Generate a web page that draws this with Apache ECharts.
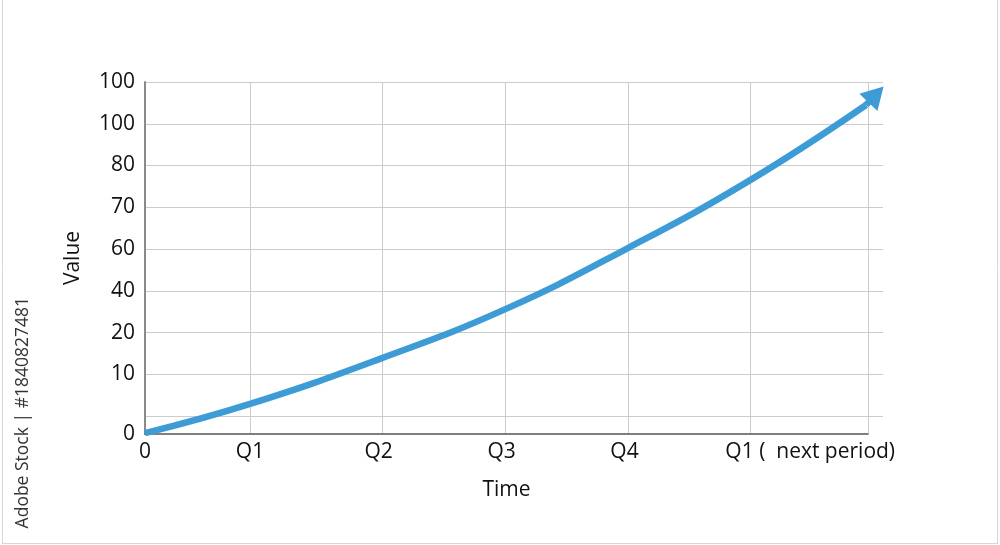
<!DOCTYPE html>
<html>
<head>
<meta charset="utf-8">
<script src="https://cdn.jsdelivr.net/npm/echarts@6/dist/echarts.min.js"></script>
<style>
html,body{margin:0;padding:0;background:#fff;}
#main{width:1000px;height:545px;}
</style>
</head>
<body>
<div id="main"></div>
<script>
// ---- data (axis units: x in quarters-ish, y in grid-slot units) ----
var xLabelPos   = [0, 0.854, 1.90, 2.90, 3.90, 5.41];
var xLabels     = ['0', 'Q1', 'Q2', 'Q3', 'Q4', 'Q1 (  next period)'];
var xGridPos    = [0.854, 1.93, 2.93, 3.93, 4.92, 5.88];
var yLabelPos   = [0, 1.43, 2.43, 3.43, 4.43, 5.43, 6.43, 7.43, 8.43];
var yLabels     = ['0', '10', '20', '40', '60', '70', '80', '100', '100'];
var yGridPos    = [0.43, 1.43, 2.43, 3.43, 4.43, 5.43, 6.43, 7.43, 8.43];
var curveX      = [0, 0.854, 1.91, 2.93, 3.93, 4.92, 5.862];
var curveY      = [0.02, 0.72, 1.80, 2.99, 4.46, 6.08, 7.88];
var arrowTip    = [5.943, 8.13];

function lookup(pos, labels) {
  return function (v) {
    var best = 0, d = Infinity;
    for (var i = 0; i < pos.length; i++) {
      var dd = Math.abs(pos[i] - v);
      if (dd < d) { d = dd; best = i; }
    }
    return labels[best];
  };
}

var curve = curveX.map(function (x, i) { return [x, curveY[i]]; });
var lineColor = '#3d9bd6';
var font = '"Open Sans", "Noto Sans", sans-serif';
var txt = '#111111';

var chart = echarts.init(document.getElementById('main'), null, {renderer: 'canvas'});
chart.setOption({
  animation: false,
  backgroundColor: '#fff',
  grid: [
    {left: 145, top: 82, width: 738, height: 352},
    {left: 145, top: 82, width: 723, height: 352}
  ],
  xAxis: [
    {gridIndex: 0, type: 'value', min: 0, max: 6, show: false},
    {
      gridIndex: 1, type: 'value', min: 0, max: 5.88,
      axisLine: {show: true, lineStyle: {color: '#555', width: 1.5}},
      axisTick: {show: false, customValues: xGridPos},
      splitLine: {show: true, lineStyle: {color: '#cccccc', width: 1}},
      axisLabel: {
        customValues: xLabelPos,
        formatter: lookup(xLabelPos, xLabels),
        color: txt, fontSize: 21, fontFamily: font, margin: 8
      },
      name: 'Time', nameLocation: 'middle', nameGap: 46,
      nameTextStyle: {color: txt, fontSize: 21, fontFamily: font}
    }
  ],
  yAxis: [
    {
      gridIndex: 0, type: 'value', min: 0, max: 8.43,
      axisLine: {show: true, lineStyle: {color: '#8a8a8a', width: 2}},
      axisTick: {show: false, customValues: yGridPos},
      splitLine: {show: true, lineStyle: {color: '#cccccc', width: 1}},
      axisLabel: {
        customValues: yLabelPos,
        formatter: lookup(yLabelPos, yLabels),
        color: txt, fontSize: 21, fontFamily: font, margin: 10
      },
      name: 'Value', nameLocation: 'middle', nameGap: 61, nameRotate: 90,
      nameTextStyle: {color: txt, fontSize: 21, fontFamily: font}
    },
    {gridIndex: 1, type: 'value', min: 0, max: 8.43, show: false}
  ],
  series: [{
    type: 'line',
    xAxisIndex: 0, yAxisIndex: 0,
    data: curve,
    smooth: 0.45,
    showSymbol: false,
    symbol: 'none',
    clip: false,
    lineStyle: {color: lineColor, width: 6.5, cap: 'butt'},
    markLine: {
      silent: true,
      symbol: ['none', 'triangle'],
      symbolSize: [25, 22],
      label: {show: false},
      lineStyle: {color: lineColor, width: 6.5, type: 'solid'},
      data: [[{coord: curve[curve.length - 1]}, {coord: arrowTip}]]
    }
  }],
  graphic: [
    {type: 'text', left: 14, top: 297, rotation: Math.PI / 2, style: {
      text: 'Adobe Stock | #1840827481', fill: '#333', font: '500 17.5px ' + font
    }},
    {type: 'line', shape: {x1: 2.5, y1: 0, x2: 2.5, y2: 543}, style: {stroke: '#d6d6d6', lineWidth: 1}},
    {type: 'line', shape: {x1: 997.5, y1: 0, x2: 997.5, y2: 543}, style: {stroke: '#d6d6d6', lineWidth: 1}},
    {type: 'line', shape: {x1: 2, y1: 543.5, x2: 998, y2: 543.5}, style: {stroke: '#d6d6d6', lineWidth: 1}}
  ]
});
</script>
</body>
</html>
